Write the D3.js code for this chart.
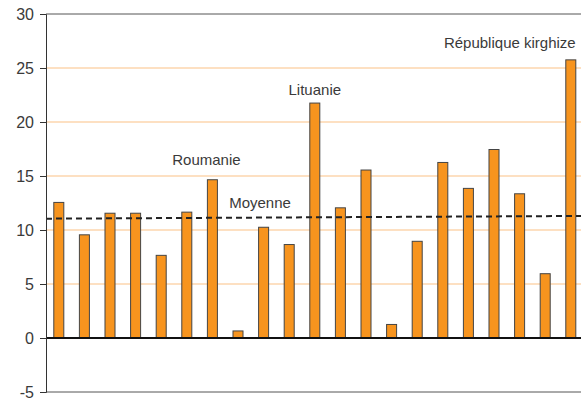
<!DOCTYPE html>
<html><head><meta charset="utf-8">
<script src="https://cdn.jsdelivr.net/npm/d3@7/dist/d3.min.js"></script>
<style>body{margin:0;background:#fff}svg{display:block}text{font-family:"Liberation Sans",Arial,sans-serif;fill:#3a3a3a}</style>
</head><body><svg id="c" width="581" height="403"></svg>
<script>
const categories = ["c1","c2","c3","c4","c5","c6","Roumanie","c8","c9","c10","Lituanie","c12","c13","c14","c15","c16","c17","c18","c19","c20","République kirghize"];
const values = [12.6,9.6,11.6,11.6,7.7,11.7,14.7,0.7,10.3,8.7,21.8,12.1,15.6,1.3,9.0,16.3,13.9,17.5,13.4,6.0,25.8];
const moyenne = [11.05,11.3];
const yTicks = [-5,0,5,10,15,20,25,30];
const annotations = [
  {cat:"Roumanie", text:"Roumanie", dx:-6, v:16.0},
  {cat:"Lituanie", text:"Lituanie", dx:0, v:22.5},
  {cat:"République kirghize", text:"République kirghize", dx:-61, v:26.85}
];

const svg = d3.select("#c");
const x0 = 46, x1 = 46 + 25.6*21;
const x = d3.scaleBand().domain(categories).range([x0, x1]).paddingInner(0.57).paddingOuter(0.285);
const y = d3.scaleLinear().domain([-5,30]).range([392,14]);

// gridlines
svg.append("g").selectAll("line").data(yTicks.filter(t=>t>0 && t<30)).join("line")
  .attr("x1",x0).attr("x2",x1).attr("y1",d=>y(d)).attr("y2",d=>y(d))
  .attr("stroke","#fde0c2").attr("stroke-width",2);
// top/bottom borders
svg.append("line").attr("x1",x0).attr("x2",x1).attr("y1",y(30)).attr("y2",y(30)).attr("stroke","#555").attr("stroke-width",1);
svg.append("line").attr("x1",x0).attr("x2",x1).attr("y1",y(-5)).attr("y2",y(-5)).attr("stroke","#555").attr("stroke-width",1);

// bars
svg.append("g").selectAll("rect").data(values).join("rect")
  .attr("x",(d,i)=>x(categories[i])+0.5)
  .attr("y",d=>y(d)+0.5)
  .attr("width",x.bandwidth()-1)
  .attr("height",d=>y(0)-y(d))
  .attr("fill","#f7941e").attr("stroke","#444").attr("stroke-width",1);

// zero line
svg.append("line").attr("x1",x0).attr("x2",x1).attr("y1",y(0)).attr("y2",y(0)).attr("stroke","#111").attr("stroke-width",2);

// average line
svg.append("line").attr("x1",x0).attr("x2",x1).attr("y1",y(moyenne[0])).attr("y2",y(moyenne[1]))
  .attr("stroke","#222").attr("stroke-width",2).attr("stroke-dasharray","6,4");

// y axis
const ax = svg.append("g").attr("transform",`translate(${x0},0)`)
  .call(d3.axisLeft(y).tickValues(yTicks).tickFormat(d=>String(d)).tickSize(6).tickPadding(6));
ax.select(".domain").attr("stroke","#333");
ax.selectAll(".tick line").attr("stroke","#333");
ax.selectAll("text").style("font-size","16px").attr("fill","#3a3a3a");

// annotations
svg.append("g").selectAll("text").data(annotations).join("text")
  .attr("x",d=>x(d.cat)+x.bandwidth()/2+d.dx)
  .attr("y",d=>y(d.v))
  .attr("text-anchor","middle")
  .style("font-size","15px")
  .text(d=>d.text);
svg.append("text").attr("x",260).attr("y",y(12.04)).attr("text-anchor","middle").style("font-size","15px").text("Moyenne");
</script></body></html>
